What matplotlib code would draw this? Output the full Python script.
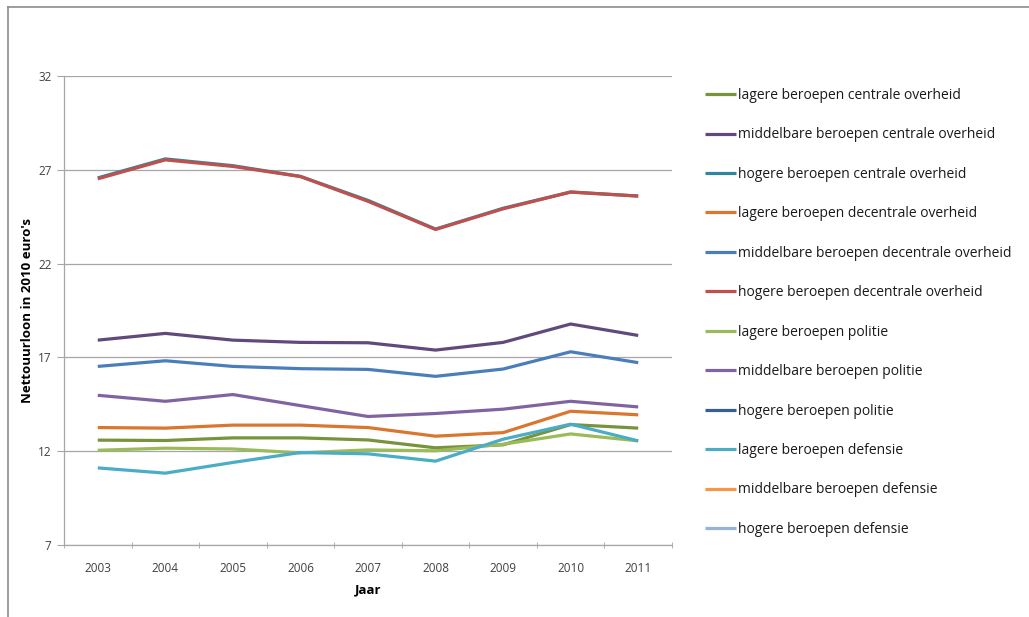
import matplotlib
matplotlib.use('Agg')
import matplotlib.pyplot as plt
import numpy as np

# Data
years = ['2003', '2004', '2005', '2006', '2007', '2008', '2009', '2010', '2011']

lagere_centrale = [12.59, 12.57, 12.71, 12.71, 12.60, 12.18, 12.34, 13.42, 13.23]
middelbare_centrale = [17.92, 18.28, 17.92, 17.80, 17.78, 17.39, 17.80, 18.78, 18.17]
hogere_centrale = [26.57, 27.58, 27.22, 26.65, 25.37, 23.84, 24.95, 25.82, 25.60]
lagere_decentrale = [13.26, 13.23, 13.39, 13.39, 13.26, 12.80, 12.99, 14.13, 13.94]
middelbare_decentrale = [16.52, 16.82, 16.52, 16.40, 16.36, 15.99, 16.38, 17.30, 16.72]
hogere_decentrale = [26.52, 27.53, 27.18, 26.64, 25.32, 23.82, 24.92, 25.81, 25.60]
lagere_politie = [12.05, 12.16, 12.12, 11.91, 12.07, 12.02, 12.37, 12.92, 12.55]
middelbare_politie = [14.98, 14.66, 15.02, 14.43, 13.85, 14.01, 14.24, 14.66, 14.36]
hogere_politie = [np.nan] * 9
lagere_defensie = [11.11, 10.83, 11.40, 11.93, 11.86, 11.47, 12.64, 13.44, 12.55]
middelbare_defensie = [np.nan] * 9
hogere_defensie = [np.nan] * 9

series = [
    ('lagere beroepen centrale overheid', lagere_centrale, '#77933C'),
    ('middelbare beroepen centrale overheid', middelbare_centrale, '#604A7B'),
    ('hogere beroepen centrale overheid', hogere_centrale, '#31859C'),
    ('lagere beroepen decentrale overheid', lagere_decentrale, '#DA7630'),
    ('middelbare beroepen decentrale overheid', middelbare_decentrale, '#4A7EBB'),
    ('hogere beroepen decentrale overheid', hogere_decentrale, '#C0504D'),
    ('lagere beroepen politie', lagere_politie, '#9BBB59'),
    ('middelbare beroepen politie', middelbare_politie, '#8064A2'),
    ('hogere beroepen politie', hogere_politie, '#376092'),
    ('lagere beroepen defensie', lagere_defensie, '#4BACC6'),
    ('middelbare beroepen defensie', middelbare_defensie, '#F79646'),
    ('hogere beroepen defensie', hogere_defensie, '#95B3D7'),
]

plt.rcParams['font.family'] = ['Open Sans', 'DejaVu Sans']

W, H = 1029, 617
fig = plt.figure(figsize=(W / 100, H / 100), dpi=100)
ax = fig.add_axes([64 / W, 1 - 545 / H, (672 - 64) / W, (545 - 76) / H])

x = np.arange(len(years))
for label, vals, color in series:
    ax.plot(x, vals, color=color, lw=2.3, label=label, solid_capstyle='butt')

# axes styling, Excel look
ax.set_xlim(-0.5, len(years) - 0.5)
ax.set_ylim(7, 32)
ax.set_yticks([7, 12, 17, 22, 27, 32])
ax.yaxis.grid(True, color='#A6A6A6', lw=0.9)
ax.set_axisbelow(True)
for s in ['top', 'right']:
    ax.spines[s].set_visible(False)
for s in ['left', 'bottom']:
    ax.spines[s].set_color('#A6A6A6')
    ax.spines[s].set_linewidth(0.9)

ax.set_xticks(x)
ax.set_xticklabels(years)
ax.set_xticks(np.arange(-0.5, len(years), 1), minor=True)
ax.tick_params(axis='x', which='major', length=0, pad=12, labelsize=8.5, labelcolor='#404040')
ax.tick_params(axis='x', which='minor', length=5, direction='inout', color='#A6A6A6')
ax.tick_params(axis='y', length=5, direction='out', color='#A6A6A6', pad=4, labelsize=8.5, labelcolor='#404040')

ax.set_xlabel('Jaar', fontsize=9.5, fontweight='bold', labelpad=6)
ax.set_ylabel("Nettouurloon in 2010 euro's", fontsize=9.5, fontweight='bold')
ax.yaxis.set_label_coords(-30 / 608, 0.5)

leg = fig.legend(loc='upper left', bbox_to_anchor=(705 / W, 1 - 88 / H), frameon=False,
                 fontsize=10, handlelength=2.2, handletextpad=0.15,
                 labelspacing=1.76, borderpad=0, borderaxespad=0)
for t in leg.get_texts():
    t.set_color('#1A1A1A')

# outer chart frame
fig.add_artist(plt.Line2D([8 / W, 1], [1 - 7 / H, 1 - 7 / H], transform=fig.transFigure, color='#8C8C8C', lw=1.2))
fig.add_artist(plt.Line2D([8 / W, 8 / W], [0, 1 - 7 / H], transform=fig.transFigure, color='#8C8C8C', lw=1.2))

fig.savefig('out.png', dpi=100)
